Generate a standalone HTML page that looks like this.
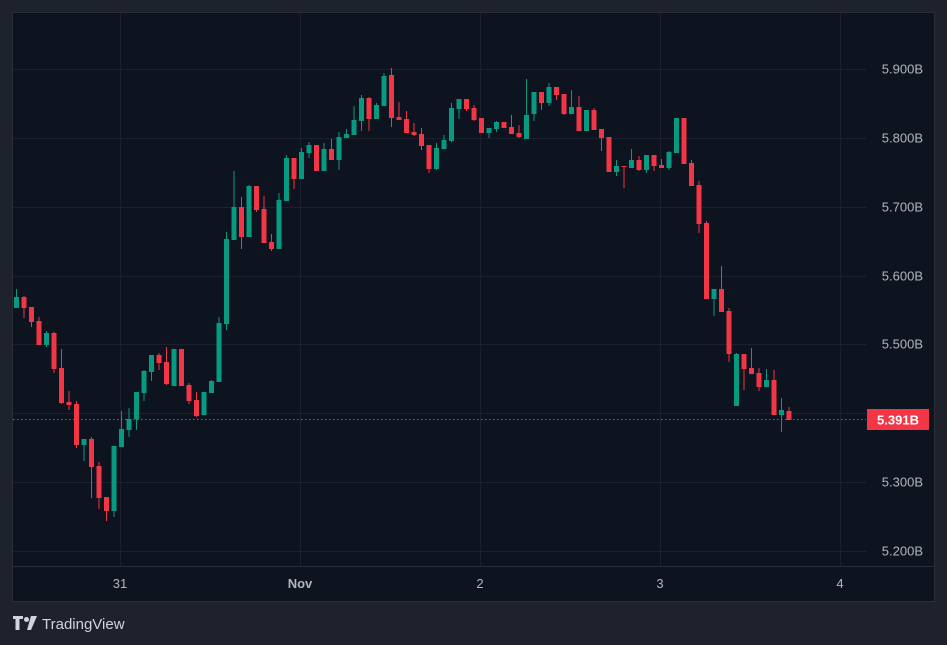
<!DOCTYPE html>
<html><head><meta charset="utf-8"><style>
html,body{margin:0;padding:0;background:#1e222d;}
body{width:947px;height:645px;overflow:hidden;font-family:"Liberation Sans",sans-serif;}
</style></head><body>
<svg id="s" width="947" height="645" xmlns="http://www.w3.org/2000/svg" style="display:block">
<rect width="947" height="645" fill="#1e222d"/>
<rect x="12.5" y="12.5" width="922" height="589" fill="#0e1320" stroke="#2a2e39"/>
<g id="grid" stroke="#1c212d" stroke-width="1"></g>
<line x1="13" y1="566.5" x2="934" y2="566.5" stroke="#2a2e39"/>
<g id="c"></g>
<line x1="13" y1="419.5" x2="866" y2="419.5" stroke="#f23645" stroke-dasharray="1.5,2.5"/>
<g id="lab" fill="#b2b5be" font-size="13"></g>
<rect x="867" y="409" width="62" height="21" fill="#f23645"/>
<text x="898" y="424.5" fill="#fff" font-size="13" font-weight="bold" text-anchor="middle">5.391B</text>
<g fill="#d1d4dc">
<path d="M13 616h10v3h-3.5v11h-4v-11h-2.5z"/>
<circle cx="26.5" cy="619.5" r="2.5"/>
<path d="M31 616h6l-6 14h-4z"/>
</g>
<text x="42" y="629" fill="#d1d4dc" font-size="15">TradingView</text>
</svg>
<script>
var NS="http://www.w3.org/2000/svg";
function el(p,t,a,txt){var e=document.createElementNS(NS,t);for(var k in a)e.setAttribute(k,a[k]);if(txt)e.textContent=txt;p.appendChild(e);return e;}
var g=document.getElementById('grid'),lab=document.getElementById('lab');
var prices=["5.900B","5.800B","5.700B","5.600B","5.500B","5.400B","5.300B","5.200B"];
for(var i=0;i<8;i++){var y=69+i*68.86;el(g,'line',{x1:13,x2:866,y1:Math.round(y)+0.5,y2:Math.round(y)+0.5});
 if(i!=5)el(lab,'text',{x:923,y:Math.round(y)+4.5,'text-anchor':'end'},prices[i]);}
var xs=[120,300,480,660,840],tl=["31","Nov","2","3","4"];
for(i=0;i<5;i++){el(g,'line',{x1:xs[i]+0.5,x2:xs[i]+0.5,y1:13,y2:566});
 el(lab,'text',{x:xs[i],y:588,'text-anchor':'middle','font-weight':i==1?'bold':'normal'},tl[i]);}
// [top,bottom,hi,lo,green?]
var d=[
[297,308,289,308,1],[297,308,296,318,0],[307,322,307,327,0],[321,345,317,345,0],[333,345,331,347,1],
[333,369,332,373,0],[368,403,349,404,0],[402,405,391,410,0],[404,445,401,448,0],[439,445,439,461,1],
[439,467,437,498,0],[466,498,462,509,0],[497,511,497,521,0],[446,511,446,517,1],[429,447,411,447,1],
[419,430,408,437,1],[392,419,392,430,1],[371,393,370,401,1],[355,372,355,381,1],[355,363,353,370,0],
[362,384,347,385,0],[349,386,349,386,1],[349,386,349,386,0],[385,401,383,404,0],[400,416,392,417,0],
[392,415,392,415,1],[381,393,380,393,1],[323,382,317,382,1],[239,324,232,330,1],[207,240,171,240,1],
[207,237,197,249,0],[186,237,185,237,1],[186,210,186,212,0],[209,243,196,243,0],[242,249,234,251,0],
[200,249,193,249,1],[158,201,155,201,1],[158,179,158,189,0],[152,179,148,179,1],[145,153,142,158,1],
[145,171,145,171,0],[149,171,143,171,1],[149,160,139,160,0],[137,160,132,170,1],[134,138,129,138,1],
[120,135,106,135,1],[98,121,95,131,1],[98,119,97,131,0],[105,119,103,119,1],[76,106,73,106,1],
[75,118,68,127,0],[117,120,102,120,0],[119,133,111,133,0],[132,135,123,136,0],[134,146,128,150,0],
[145,169,145,173,0],[148,169,143,170,1],[140,149,135,149,1],[108,141,103,142,1],[99,109,99,119,1],
[99,109,99,111,0],[108,120,105,121,0],[118,133,118,133,0],[128,133,128,138,1],[122,129,121,132,1],
[122,128,122,128,0],[127,134,115,134,0],[133,137,125,138,0],[115,139,79,139,1],[92,114,92,121,1],
[92,103,92,110,0],[87,103,83,106,1],[87,95,87,100,0],[94,114,94,115,0],[107,114,90,114,1],
[107,131,96,131,0],[110,131,110,131,1],[110,130,108,130,0],[129,138,129,151,0],[137,172,137,172,0],
[166,172,160,176,1],[166,167,166,188,0],[160,168,149,168,1],[160,170,156,171,0],[155,170,155,173,1],
[155,166,155,171,0],[165,168,159,168,0],[152,168,151,170,1],[118,153,118,153,1],[118,164,118,164,0],
[163,186,160,186,0],[185,224,181,233,0],[223,299,221,299,0],[289,299,289,316,1],[289,312,266,312,0],
[311,354,308,362,0],[354,406,353,406,1],[354,369,354,390,0],[368,374,348,374,0],[373,387,368,391,0],
[380,387,369,387,1],[380,415,370,415,0],[410,415,398,432,1],[411,420,407,420,0]];
var c=document.getElementById('c');
for(i=0;i<d.length;i++){var x=14+7.5*i,col=d[i][4]?'#089981':'#f23645';
 el(c,'rect',{x:x+2,y:d[i][2],width:1,height:Math.max(1,d[i][3]-d[i][2]),fill:col});
 el(c,'rect',{x:x,y:d[i][0],width:5,height:Math.max(1,d[i][1]-d[i][0]),fill:col});}
</script>
</body></html>
